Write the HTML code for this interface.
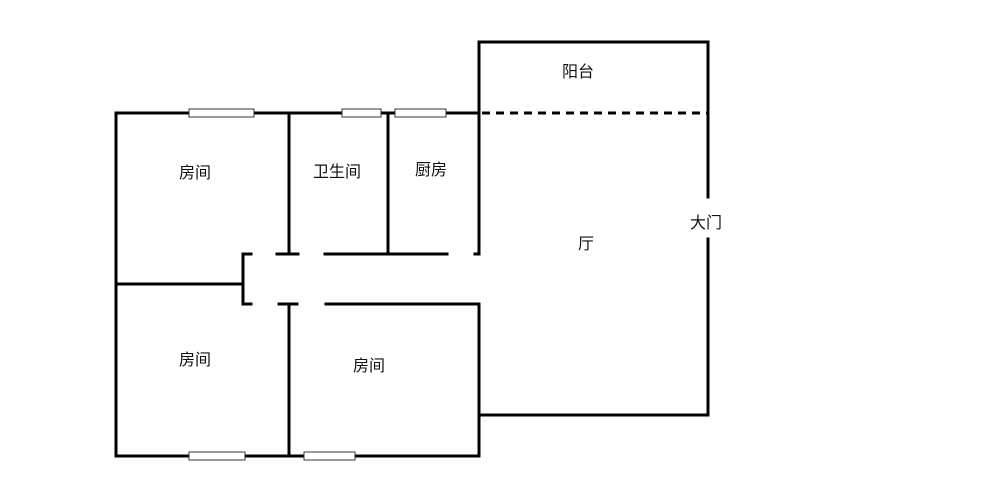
<!DOCTYPE html>
<html><head><meta charset="utf-8"><style>
html,body{margin:0;padding:0;background:#fff;}
svg{display:block;}
text{font-family:"Liberation Sans","Noto Sans CJK SC",sans-serif;font-size:16px;fill:#111;}
</style></head><body>
<svg width="1000" height="488" viewBox="0 0 1000 488" xmlns="http://www.w3.org/2000/svg">
<g stroke="#000" stroke-width="3" fill="none" stroke-linecap="square">
<line x1="116" y1="113" x2="479" y2="113"/>
<line x1="116" y1="113" x2="116" y2="456"/>
<line x1="116" y1="456" x2="479" y2="456"/>
<line x1="289" y1="113" x2="289" y2="254"/>
<line x1="388" y1="113" x2="388" y2="254"/>
<line x1="479" y1="42" x2="479" y2="253"/>
<line x1="479" y1="42" x2="708" y2="42"/>
<line x1="708" y1="42" x2="708" y2="197"/>
<line x1="708" y1="239" x2="708" y2="415"/>
<line x1="479" y1="415" x2="708" y2="415"/>
<line x1="479" y1="304" x2="479" y2="456"/>
<line x1="277" y1="254" x2="298" y2="254"/>
<line x1="325" y1="254" x2="447" y2="254"/>
<line x1="475" y1="254" x2="479" y2="254"/>
<line x1="243" y1="254" x2="243" y2="304"/>
<line x1="243" y1="254" x2="251" y2="254"/>
<line x1="243" y1="304" x2="251" y2="304"/>
<line x1="116" y1="284" x2="243" y2="284"/>
<line x1="279" y1="304" x2="297" y2="304"/>
<line x1="326" y1="304" x2="479" y2="304"/>
<line x1="289" y1="304" x2="289" y2="456"/>
<line x1="482" y1="113" x2="708" y2="113" stroke-dasharray="8,6" stroke-linecap="butt"/>
</g>
<g stroke="#333" stroke-width="1" fill="#fff">
<rect x="189" y="109" width="65" height="8"/>
<rect x="342" y="109" width="39" height="8"/>
<rect x="395" y="109" width="51" height="8"/>
<rect x="189" y="452" width="56" height="8"/>
<rect x="304" y="452" width="51" height="8"/>
</g>
<text x="179" y="178">房间</text>
<text x="313" y="177">卫生间</text>
<text x="415" y="175">厨房</text>
<text x="562" y="77">阳台</text>
<text x="578" y="249">厅</text>
<text x="690" y="228">大门</text>
<text x="179" y="365">房间</text>
<text x="353" y="371">房间</text>
</svg>
</body></html>
